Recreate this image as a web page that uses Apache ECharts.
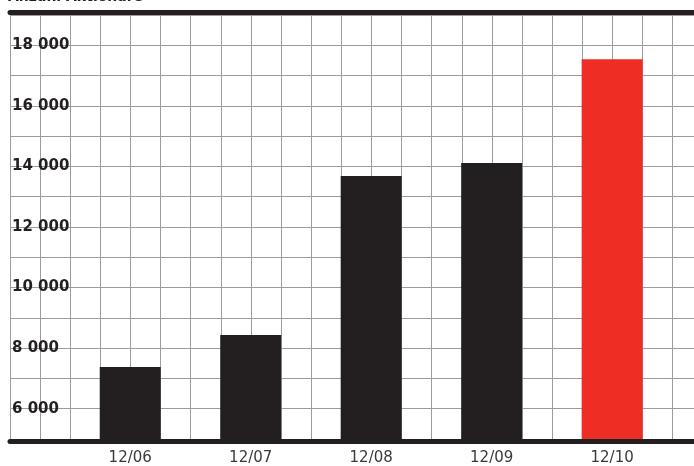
<!DOCTYPE html>
<html>
<head>
<meta charset="utf-8">
<script src="https://cdn.jsdelivr.net/npm/echarts@6/dist/echarts.min.js"></script>
<style>
html,body{margin:0;padding:0;background:#fff;}
#chart{width:694px;height:466px;}
</style>
</head>
<body>
<div id="chart"></div>
<script>
var titleText = 'Anzahl Aktionäre';
var categories = ['12/06', '12/07', '12/08', '12/09', '12/10'];
var values = [7380, 8430, 13680, 14110, 17540];
var barColors = ['#231f20', '#231f20', '#231f20', '#231f20', '#ee2e24'];
var yMin = 5000, yMax = 19000, yStep = 1000;
var yLabelValues = [6000, 8000, 10000, 12000, 14000, 16000, 18000];

function fmtThousands(v) {
  return String(v).replace(/\B(?=(\d{3})+(?!\d))/g, ' ');
}

var chart = echarts.init(document.getElementById('chart'), null, {renderer: 'canvas'});
var cell = 30.12;
var plotW = 684;
var option = {
  animation: false,
  backgroundColor: '#fff',
  title: {
    text: titleText,
    left: 8,
    top: -9.5,
    padding: 0,
    textStyle: {fontFamily: 'DejaVu Sans', fontWeight: 'bold', fontSize: 14, color: '#231f20'}
  },
  grid: [
    {left: 10, top: 15, width: plotW, height: 424, containLabel: false},
    {left: 10 + 2 * cell - 0.25, top: 15, width: 20 * cell, height: 424, containLabel: false}
  ],
  xAxis: [
    {
      gridIndex: 0, type: 'value', min: 0, max: plotW / cell, interval: 1, position: 'bottom', offset: 2.5,
      axisLine: {show: true, lineStyle: {color: '#231f20', width: 5}},
      axisTick: {show: false}, axisLabel: {show: false},
      splitLine: {show: true, showMaxLine: false, lineStyle: {color: '#9c9c9c', width: 1}}
    },
    {
      gridIndex: 0, type: 'value', min: 0, max: plotW / cell, interval: 1, position: 'top', offset: 2.5,
      axisLine: {show: true, lineStyle: {color: '#231f20', width: 5}},
      axisTick: {show: false}, axisLabel: {show: false}, splitLine: {show: false}
    },
    {
      gridIndex: 1, type: 'category', data: categories, position: 'bottom',
      axisLine: {show: false}, axisTick: {show: false},
      axisLabel: {margin: 12, color: '#3a3a3a', fontFamily: 'DejaVu Sans', fontSize: 15},
      splitLine: {show: false}
    }
  ],
  yAxis: [
    {
      gridIndex: 0, type: 'value', min: yMin, max: yMax, interval: yStep,
      axisLine: {show: false}, axisTick: {show: false},
      splitLine: {show: true, lineStyle: {color: '#9c9c9c', width: 1}},
      axisLabel: {
        inside: true, margin: 2, hideOverlap: false, showMinLabel: true, showMaxLabel: true,
        color: '#231f20', fontFamily: 'DejaVu Sans', fontWeight: 'bold', fontSize: 15,
        formatter: function (v) { return yLabelValues.indexOf(v) >= 0 ? fmtThousands(v) : ''; }
      }
    },
    {
      gridIndex: 1, type: 'value', min: yMin, max: yMax, interval: yStep, show: false
    }
  ],
  series: [
    {
      type: 'bar', xAxisIndex: 2, yAxisIndex: 1, barWidth: 61, z: 3,
      data: values.map(function (v, i) { return {value: v, itemStyle: {color: barColors[i]}}; })
    }
  ]
};
chart.setOption(option);
</script>
</body>
</html>
